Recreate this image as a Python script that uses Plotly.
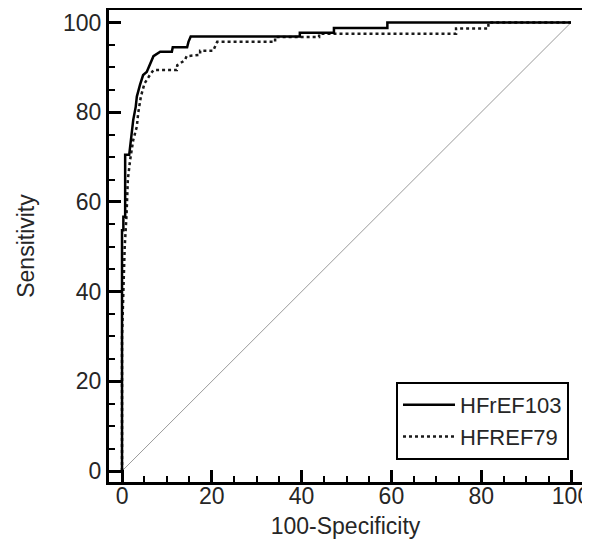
import plotly.graph_objects as go

# ── Data ──────────────────────────────────────────────────────────────────────
HFREF103_FPR = [0, 0, 0.3, 0.3, 0.7, 0.7, 1.6, 1.8, 2.2, 2.5, 3.05, 3.3, 4.0,
                4.7, 5.5, 6.1, 6.6, 7.0, 8.5, 11.1, 11.3, 14.5, 14.8, 15.3,
                39.6, 39.6, 47.2, 47.2, 59.1, 59.1, 100]
HFREF103_TPR = [0, 53.7, 53.7, 56.7, 56.7, 70.5, 70.5, 72.3, 76.0, 78.3, 81.2,
                83.5, 86.1, 88.3, 89.0, 90.5, 91.6, 92.5, 93.5, 93.5, 94.5,
                94.5, 95.7, 96.9, 96.9, 97.7, 97.7, 98.8, 98.8, 100, 100]

HFREF79_FPR = [0, 0, 0.3, 0.6, 1.0, 1.3, 1.8, 2.5, 3.3, 3.6, 4.2, 5.0, 6.2,
               7.0, 12.2, 12.3, 14.0, 14.4, 17.4, 17.4, 20.3, 20.7, 21.2,
               34.1, 34.1, 43.9, 43.9, 74.4, 74.4, 81.6, 81.6, 100]
HFREF79_TPR = [0, 30, 40, 50, 57, 65, 69.3, 73.8, 76.8, 79.8, 83.5, 86.4, 88.3,
               89.4, 89.4, 90.5, 91.6, 92.5, 92.8, 93.7, 93.7, 94.6, 95.7,
               95.7, 96.8, 96.8, 97.5, 97.5, 98.7, 98.7, 100, 100]

DIAG_X = [0, 100]
DIAG_Y = [0, 100]

FONT = "Liberation Sans, Arial, sans-serif"
TXT = "#262626"

fig = go.Figure()

# reference line
fig.add_trace(go.Scatter(
    x=DIAG_X, y=DIAG_Y, mode="lines", showlegend=False, hoverinfo="skip",
    line=dict(color="#9a9a9a", width=1),
))

fig.add_trace(go.Scatter(
    x=HFREF79_FPR, y=HFREF79_TPR, mode="lines", name="HFREF79", legendrank=2,
    line=dict(color="#1a1a1a", width=2.5, dash="dot"),
))
fig.add_trace(go.Scatter(
    x=HFREF103_FPR, y=HFREF103_TPR, mode="lines", name="HFrEF103", legendrank=1,
    line=dict(color="black", width=2.5),
))

axis_common = dict(
    tickmode="linear", tick0=0, dtick=20, automargin=False,
    ticklabeloverflow="allow",
    ticks="inside", ticklen=12, tickwidth=3, tickcolor="black",
    minor=dict(tickmode="linear", tick0=0, dtick=5, ticks="inside",
               ticklen=6, tickwidth=2, tickcolor="black", showgrid=False),
    showline=True, linewidth=3, linecolor="black", mirror=True,
    showgrid=False, zeroline=False,
    tickfont=dict(family=FONT, size=23, color=TXT),
)

# the page body has an 8px margin, so the figure is drawn 8px smaller
fig.update_xaxes(**axis_common, range=[-2.9, 102.45], ticklabelstandoff=-9,
                 title=dict(text="100-Specificity", standoff=11,
                            font=dict(family=FONT, size=23, color=TXT)))
fig.update_yaxes(**axis_common, range=[-2.45, 102.8],
                 title=dict(text="Sensitivity", standoff=22,
                            font=dict(family=FONT, size=23, color=TXT)))

fig.update_layout(
    width=582, height=544,
    paper_bgcolor="white", plot_bgcolor="white",
    margin=dict(l=101, r=8, t=2, b=70),
    legend=dict(
        x=0.9725, y=0.0466, xanchor="right", yanchor="bottom",
        bgcolor="white", bordercolor="black", borderwidth=2,
        font=dict(family=FONT, size=22, color=TXT),
        itemwidth=52, tracegroupgap=0,
    ),
)

fig.write_html("out.html")
